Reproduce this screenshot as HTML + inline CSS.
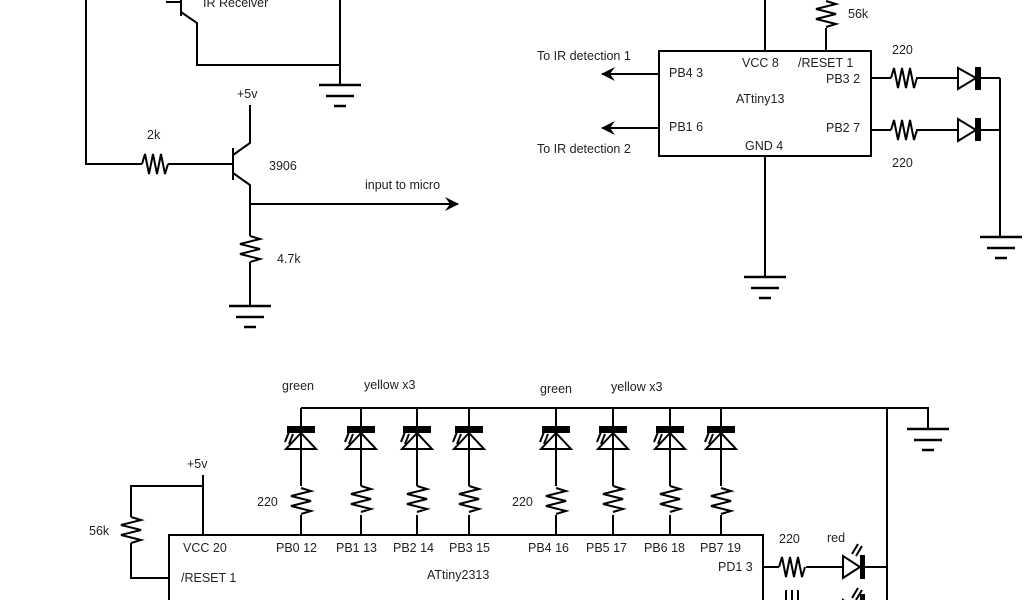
<!DOCTYPE html>
<html><head><meta charset="utf-8"><style>
html,body{margin:0;padding:0;background:#fff;}
svg{display:block;}
text{font-family:"Liberation Sans","DejaVu Sans",sans-serif;font-size:12.5px;fill:#222;}
</style></head><body>
<svg width="1024" height="600" viewBox="0 0 1024 600" xmlns="http://www.w3.org/2000/svg">
<defs>
<g id="gnd" stroke="#000" stroke-width="2.5"><line x1="-21" y1="0" x2="21" y2="0"/><line x1="-14" y1="11" x2="14" y2="11"/><line x1="-6" y1="21" x2="6" y2="21"/></g>
<g id="rh" fill="none" stroke="#000" stroke-width="2"><polyline points="-13,0 -10,-10 -6,10 -2,-10 2,10 6,-10 10,10 13,0"/></g>
<g id="rv" fill="none" stroke="#000" stroke-width="2"><polyline points="0,-13 10,-10 -10,-5 10,0 -10,5 10,10 0,13"/></g>
<g id="led" stroke="#000" stroke-width="2" fill="none"><rect x="-14" y="-4" width="28" height="7" fill="#000" stroke="none"/><polygon points="0,3 -15,19 15,19"/><line x1="-12" y1="2" x2="-16" y2="12"/><line x1="-8" y1="4" x2="-12" y2="14"/></g>
<marker id="ar" markerWidth="14" markerHeight="14" refX="13" refY="7" orient="auto" markerUnits="userSpaceOnUse"><path d="M0,0 L14,7 L0,14 L5,7 z" fill="#000"/></marker>
</defs>
<g stroke="#000" stroke-width="2" fill="none">
<polyline points="86,0 86,164 142,164"/>
<line x1="168" y1="164" x2="219" y2="164"/>
<line x1="233" y1="148" x2="233" y2="180"/>
<line x1="219" y1="164" x2="233" y2="164"/>
<polyline points="233,155 250,143 250,105"/>
<polyline points="233,173 250,185 250,236"/>
<line x1="250" y1="262" x2="250" y2="306"/>
<line x1="250" y1="204" x2="458" y2="204" marker-end="url(#ar)"/>
<line x1="166" y1="2" x2="180" y2="2"/>
<line x1="181" y1="0" x2="181" y2="16"/>
<polyline points="181,12 197,23 197,65 340,65"/>
<line x1="340" y1="0" x2="340" y2="85"/>
<rect x="659" y="51" width="212" height="105"/>
<line x1="765" y1="0" x2="765" y2="51"/>
<line x1="826" y1="28" x2="826" y2="51"/>
<line x1="659" y1="74" x2="602" y2="74" marker-end="url(#ar)"/>
<line x1="659" y1="128" x2="602" y2="128" marker-end="url(#ar)"/>
<line x1="871" y1="78" x2="891" y2="78"/><line x1="916" y1="78" x2="958" y2="78"/><line x1="976" y1="78" x2="1000" y2="78"/>
<line x1="871" y1="130" x2="891" y2="130"/><line x1="916" y1="130" x2="958" y2="130"/><line x1="976" y1="130" x2="1000" y2="130"/>
<polygon points="958,68 958,89 976,78"/><polygon points="958,119 958,141 976,130"/>
<line x1="1000" y1="78" x2="1000" y2="237"/>
<line x1="765" y1="156" x2="765" y2="277"/>
<polyline points="301,408 928,408 928,429"/>
<line x1="887" y1="408" x2="887" y2="600"/>
<rect x="169" y="535" width="594" height="80"/>
<line x1="203" y1="475" x2="203" y2="535"/>
<polyline points="203,486 131,486 131,517"/>
<polyline points="131,543 131,578 169,578"/>
<line x1="763" y1="567" x2="779" y2="567"/><line x1="806" y1="567" x2="843" y2="567"/><line x1="863" y1="567" x2="887" y2="567"/>
<polygon points="843,556 843,578 860,567"/>
<line x1="852" y1="554" x2="858" y2="544"/><line x1="856" y1="556" x2="862" y2="546"/>
<polygon points="843,600 843,611 860,611"/>
<line x1="852" y1="598" x2="858" y2="588"/><line x1="856" y1="600" x2="862" y2="590"/>
<line x1="786" y1="590" x2="786" y2="600"/><line x1="792" y1="590" x2="792" y2="600"/><line x1="798" y1="590" x2="798" y2="600"/>
</g>
<rect x="860" y="555" width="5" height="24" fill="#000"/>
<rect x="860" y="594" width="5" height="10" fill="#000"/>
<rect x="975" y="67" width="6" height="23" fill="#000"/><rect x="975" y="118" width="6" height="23" fill="#000"/>
<use href="#rh" x="155" y="164"/>
<use href="#rv" x="250" y="249"/>
<use href="#rv" x="826" y="14"/>
<use href="#rh" x="904" y="78"/><use href="#rh" x="904" y="130"/>
<use href="#rv" x="131" y="530"/>
<use href="#rh" x="792" y="567"/>
<use href="#gnd" x="250" y="306"/><use href="#gnd" x="340" y="85"/><use href="#gnd" x="765" y="277"/><use href="#gnd" x="1001" y="237"/><use href="#gnd" x="928" y="429"/>
<g>
<g transform="translate(301,0)"><line x1="0" y1="408" x2="0" y2="535" stroke="#000" stroke-width="2"/><use href="#led" y="430"/><rect x="-11" y="486" width="22" height="29" fill="#fff"/><use href="#rv" y="501"/></g>
<g transform="translate(361,0)"><line x1="0" y1="408" x2="0" y2="535" stroke="#000" stroke-width="2"/><use href="#led" y="430"/><rect x="-11" y="486" width="22" height="29" fill="#fff"/><use href="#rv" y="499"/></g>
<g transform="translate(417,0)"><line x1="0" y1="408" x2="0" y2="535" stroke="#000" stroke-width="2"/><use href="#led" y="430"/><rect x="-11" y="486" width="22" height="29" fill="#fff"/><use href="#rv" y="499"/></g>
<g transform="translate(469,0)"><line x1="0" y1="408" x2="0" y2="535" stroke="#000" stroke-width="2"/><use href="#led" y="430"/><rect x="-11" y="486" width="22" height="29" fill="#fff"/><use href="#rv" y="499"/></g>
<g transform="translate(556,0)"><line x1="0" y1="408" x2="0" y2="535" stroke="#000" stroke-width="2"/><use href="#led" y="430"/><rect x="-11" y="486" width="22" height="29" fill="#fff"/><use href="#rv" y="501"/></g>
<g transform="translate(613,0)"><line x1="0" y1="408" x2="0" y2="535" stroke="#000" stroke-width="2"/><use href="#led" y="430"/><rect x="-11" y="486" width="22" height="29" fill="#fff"/><use href="#rv" y="499"/></g>
<g transform="translate(670,0)"><line x1="0" y1="408" x2="0" y2="535" stroke="#000" stroke-width="2"/><use href="#led" y="430"/><rect x="-11" y="486" width="22" height="29" fill="#fff"/><use href="#rv" y="499"/></g>
<g transform="translate(721,0)"><line x1="0" y1="408" x2="0" y2="535" stroke="#000" stroke-width="2"/><use href="#led" y="430"/><rect x="-11" y="486" width="22" height="29" fill="#fff"/><use href="#rv" y="501"/></g>
</g>
<text x="203" y="7">IR Receiver</text>
<text x="237" y="98">+5v</text>
<text x="147" y="139">2k</text>
<text x="269" y="170">3906</text>
<text x="365" y="189">input to micro</text>
<text x="277" y="263">4.7k</text>
<text x="848" y="18">56k</text>
<text x="537" y="60">To IR detection 1</text>
<text x="537" y="153">To IR detection 2</text>
<text x="742" y="67">VCC 8</text>
<text x="798" y="67">/RESET 1</text>
<text x="669" y="77">PB4 3</text>
<text x="736" y="103">ATtiny13</text>
<text x="669" y="131">PB1 6</text>
<text x="745" y="150">GND 4</text>
<text x="826" y="83">PB3 2</text>
<text x="826" y="132">PB2 7</text>
<text x="892" y="54">220</text>
<text x="892" y="167">220</text>
<text x="282" y="390">green</text>
<text x="364" y="389">yellow x3</text>
<text x="540" y="393">green</text>
<text x="611" y="391">yellow x3</text>
<text x="187" y="468">+5v</text>
<text x="257" y="506">220</text>
<text x="512" y="506">220</text>
<text x="89" y="535">56k</text>
<text x="183" y="552">VCC 20</text>
<text x="276" y="552">PB0 12</text>
<text x="336" y="552">PB1 13</text>
<text x="393" y="552">PB2 14</text>
<text x="449" y="552">PB3 15</text>
<text x="528" y="552">PB4 16</text>
<text x="586" y="552">PB5 17</text>
<text x="644" y="552">PB6 18</text>
<text x="700" y="552">PB7 19</text>
<text x="181" y="582">/RESET 1</text>
<text x="427" y="579">ATtiny2313</text>
<text x="718" y="571">PD1 3</text>
<text x="779" y="543">220</text>
<text x="827" y="542">red</text>
</svg>
</body></html>
